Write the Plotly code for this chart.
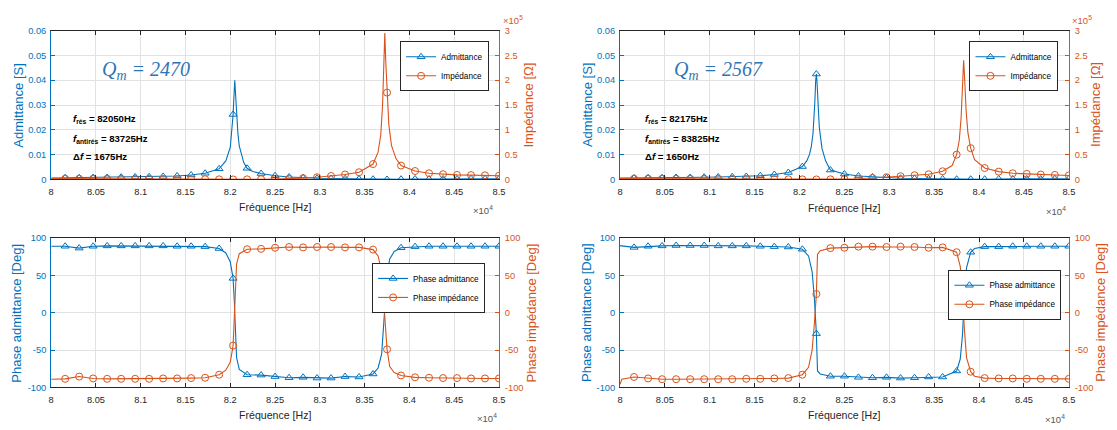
import plotly.graph_objects as go

# page body has an 8px margin: the figure is sized/offset so that it maps onto the 1117x430 window
PAGE_W, PAGE_H = 1117, 430
OFF = 8
W, H = PAGE_W - OFF, PAGE_H - OFF
BLUE = '#0072BD'
ORANGE = '#D95319'
DARK = '#262626'
GRID = '#e2e2e2'
FONT = 'Liberation Sans'

# ---------------- axis ticks ----------------
x_tick_vals = [80000, 80500, 81000, 81500, 82000, 82500, 83000, 83500, 84000, 84500, 85000]
x_tick_text = ['8', '8.05', '8.1', '8.15', '8.2', '8.25', '8.3', '8.35', '8.4', '8.45', '8.5']
adm_tick_vals = [0, 0.01, 0.02, 0.03, 0.04, 0.05, 0.06]
adm_tick_text = ['0', '0.01', '0.02', '0.03', '0.04', '0.05', '0.06']
imp_tick_vals = [0, 50000, 100000, 150000, 200000, 250000, 300000]
imp_tick_text = ['0', '0.5', '1', '1.5', '2', '2.5', '3']
phase_tick_vals = [-100, -50, 0, 50, 100]
phase_tick_text = ['-100', '-50', '0', '50', '100']

# marker positions (every marker drawn on the curves)
marker_freq = [80156.25, 80312.5, 80468.75, 80625, 80781.25, 80937.5, 81093.75, 81250,
               81406.25, 81562.5, 81718.75, 81875, 82031.25, 82187.5, 82343.75, 82500,
               82656.25, 82812.5, 82968.75, 83125, 83281.25, 83437.5, 83593.75, 83750,
               83906.25, 84062.5, 84218.75, 84375, 84531.25, 84687.5, 84843.75, 85000]

# ---------------- top-left: Qm = 2470 ----------------
freq_tl = [80000, 80156.25, 80312.5, 80468.75, 80625, 80781.25, 80937.5, 81093.75, 81250,
           81406.25, 81562.5, 81718.75, 81875, 81950, 82000, 82020, 82031.25, 82040, 82050,
           82060, 82070, 82085, 82100, 82130, 82150, 82187.5, 82250, 82343.75, 82500,
           82656.25, 82812.5, 82968.75, 83125, 83281.25, 83437.5, 83593.75, 83650, 83680,
           83700, 83715, 83725, 83735, 83750, 83770, 83800, 83850, 83906.25, 84062.5,
           84218.75, 84375, 84531.25, 84687.5, 84843.75, 85000]
adm_tl = [0.0006, 0.0007, 0.0007, 0.0008, 0.0008, 0.0009, 0.0010, 0.0011, 0.0012,
          0.0014, 0.0018, 0.0025, 0.0043, 0.0075, 0.0130, 0.0200, 0.0262, 0.0330, 0.0400,
          0.0335, 0.0265, 0.0185, 0.0135, 0.0088, 0.0068, 0.0045, 0.0032, 0.0024, 0.0015,
          0.0010, 0.0007, 0.0005, 0.0004, 0.0003, 0.0002, 0.0001, 0.0001, 0.0001,
          0.0000, 0.0000, 0.0000, 0.0000, 0.0000, 0.0001, 0.0001, 0.0001, 0.0001, 0.0002,
          0.0002, 0.0002, 0.0002, 0.0003, 0.0003, 0.0003]
imp_tl = [1600, 1450, 1400, 1300, 1250, 1150, 1050, 950, 850,
          720, 560, 400, 235, 135, 77, 50, 38, 30, 25,
          30, 38, 54, 74, 113, 147, 222, 330, 500, 900,
          1500, 2600, 4500, 7000, 10000, 14500, 31000, 55000, 90000,
          150000, 230000, 295000, 240000, 175000, 110000, 68000, 42000, 28000, 17000,
          12500, 10500, 9200, 8800, 8300, 7500]

# ---------------- top-right: Qm = 2567 ----------------
freq_tr = [80000, 80156.25, 80312.5, 80468.75, 80625, 80781.25, 80937.5, 81093.75, 81250,
           81406.25, 81562.5, 81718.75, 81875, 82031.25, 82080, 82110, 82130, 82150, 82160,
           82170, 82180, 82187.5, 82195, 82205, 82220, 82250, 82290, 82343.75, 82500,
           82656.25, 82812.5, 82968.75, 83125, 83281.25, 83437.5, 83593.75, 83700, 83750,
           83780, 83800, 83815, 83828, 83840, 83855, 83875, 83906.25, 83950, 84062.5,
           84218.75, 84375, 84531.25, 84687.5, 84843.75, 85000]
adm_tr = [0.0006, 0.0006, 0.0007, 0.0007, 0.0008, 0.0008, 0.0009, 0.0010, 0.0011,
          0.0012, 0.0015, 0.0020, 0.0028, 0.0052, 0.0075, 0.0100, 0.0130, 0.0185, 0.0235,
          0.0310, 0.0400, 0.0425, 0.0390, 0.0300, 0.0210, 0.0125, 0.0075, 0.0038, 0.0022,
          0.0014, 0.0010, 0.0007, 0.0005, 0.0004, 0.0003, 0.0002, 0.0001, 0.0001,
          0.0000, 0.0000, 0.0000, 0.0000, 0.0000, 0.0000, 0.0000, 0.0001, 0.0001, 0.0001,
          0.0002, 0.0002, 0.0002, 0.0002, 0.0003, 0.0003]
imp_tr = [1600, 1550, 1450, 1400, 1300, 1250, 1150, 1050, 950,
          850, 700, 520, 360, 190, 130, 100, 77, 54, 43,
          32, 25, 24, 26, 33, 48, 80, 130, 260, 600,
          1500, 2800, 4500, 6500, 8500, 10500, 16500, 28000, 50000,
          80000, 125000, 185000, 240000, 200000, 140000, 95000, 63000, 40000, 23000,
          15800, 12500, 11200, 9900, 9200, 8000]

# ---------------- bottom-left: phases (Qm = 2470) ----------------
freq_bl = [80000, 80156.25, 80312.5, 80468.75, 80625, 80781.25, 80937.5, 81093.75, 81250,
           81406.25, 81562.5, 81718.75, 81875, 81950, 82000, 82031.25, 82045, 82055, 82070,
           82100, 82187.5, 82343.75, 82500, 82656.25, 82812.5, 82968.75, 83125, 83281.25,
           83437.5, 83593.75, 83650, 83690, 83712, 83730, 83750, 83780, 83830, 83906.25,
           84062.5, 84218.75, 84375, 84531.25, 84687.5, 84843.75, 85000]
ph_adm_bl = [89, 89, 86.5, 89, 89.5, 89.5, 89.5, 89.5, 89.5,
             89, 89, 88.5, 86, 80, 68, 46, 15, -25, -60,
             -76, -83, -83.5, -85.5, -87, -86.5, -87.5, -87.5, -85.5,
             -86, -82, -74, -55, -20, 20, 50, 72, 82, 87,
             88.5, 89, 89, 89, 89, 89, 89]
ph_imp_bl = [-89, -88.5, -85.5, -88, -88.5, -88.5, -88.5, -88.5, -88,
             -88, -87.5, -87, -83, -77, -66, -44, -10, 30, 65,
             79, 85, 85.5, 87, 88, 87.5, 88, 88, 87.5,
             87.5, 84.5, 76, 55, 20, -20, -49, -72, -80, -84,
             -86.5, -87, -87.5, -87.5, -88, -88, -88]

# ---------------- bottom-right: phases (Qm = 2567) ----------------
freq_br = [80000, 80020, 80156.25, 80312.5, 80468.75, 80625, 80781.25, 80937.5, 81093.75,
           81250, 81406.25, 81562.5, 81718.75, 81875, 82031.25, 82100, 82140, 82165, 82187.5,
           82200, 82230, 82343.75, 82500, 82656.25, 82812.5, 82968.75, 83125, 83281.25,
           83437.5, 83593.75, 83750, 83790, 83815, 83835, 83860, 83906.25, 83950, 84062.5,
           84218.75, 84375, 84531.25, 84687.5, 84843.75, 85000]
ph_adm_br = [89.5, 89.5, 87.5, 89, 89.5, 90, 90, 90, 89.5,
             89.5, 89.5, 89, 88.5, 88, 85, 76, 55, 20, -28,
             -78, -82, -85, -85, -86.5, -87, -86.5, -87.5, -87,
             -86, -86, -78, -62, -30, 20, 60, 81, 86, 88.5,
             88.5, 89, 89, 89, 89, 89]
ph_imp_br = [-96, -89, -86, -88, -89, -89, -89, -89, -89,
             -89, -88.5, -88.5, -88, -87.5, -83, -73, -50, -15, 25,
             78, 83, 86.5, 87, 88.5, 88.5, 88, 88.5, 88,
             87, 87.5, 81, 62, 30, -20, -60, -79, -85, -87.5,
             -88, -88, -88.5, -88.5, -88.5, -88.5]

# ---------------- texts ----------------
qm_texts = ['2470', '2567']
f_res = ['82050', '82175']
f_antires = ['83725', '83825']
delta_f = ['1675', '1650']


def px(x):
    return (x - OFF) / W


def py(y):
    return 1 - (y - OFF) / H


fig = go.Figure()

MK = set(marker_freq)


def add_series(freq, vals, xa, ya, color, symbol, name, legend):
    fig.add_trace(go.Scatter(x=freq, y=vals, mode='lines', xaxis=xa, yaxis=ya,
                             line=dict(color=color, width=1.1), showlegend=False,
                             hoverinfo='skip'))
    mx = [f for f in freq if f in MK]
    my = [v for f, v in zip(freq, vals) if f in MK]
    fig.add_trace(go.Scatter(x=mx, y=my, mode='markers', xaxis=xa, yaxis=ya,
                             marker=dict(symbol=symbol, size=7, color=color,
                                         line=dict(color=color, width=1)),
                             showlegend=False, hoverinfo='skip'))
    fig.add_trace(go.Scatter(x=[None], y=[None], mode='lines+markers', xaxis=xa, yaxis=ya,
                             name=name, legend=legend,
                             line=dict(color=color, width=1.1),
                             marker=dict(symbol=symbol, size=7, color=color,
                                         line=dict(color=color, width=1))))


add_series(freq_tl, adm_tl, 'x', 'y', BLUE, 'triangle-up-open', 'Admittance', 'legend')
add_series(freq_tl, imp_tl, 'x', 'y2', ORANGE, 'circle-open', 'Impédance', 'legend')
add_series(freq_tr, adm_tr, 'x2', 'y3', BLUE, 'triangle-up-open', 'Admittance', 'legend2')
add_series(freq_tr, imp_tr, 'x2', 'y4', ORANGE, 'circle-open', 'Impédance', 'legend2')
add_series(freq_bl, ph_adm_bl, 'x3', 'y5', BLUE, 'triangle-up-open', 'Phase admittance', 'legend3')
add_series(freq_bl, ph_imp_bl, 'x3', 'y6', ORANGE, 'circle-open', 'Phase impédance', 'legend3')
add_series(freq_br, ph_adm_br, 'x4', 'y7', BLUE, 'triangle-up-open', 'Phase admittance', 'legend4')
add_series(freq_br, ph_imp_br, 'x4', 'y8', ORANGE, 'circle-open', 'Phase impédance', 'legend4')

LX = [48.5, 500]
RX = [622, 1074.5]
TY = [26, 178.5]
BY = [238.5, 391.5]


def xdom(a):
    return [px(a[0]), px(a[1])]


def ydom(a):
    return [py(a[1]), py(a[0])]


def xax(dom, anchor):
    return dict(domain=xdom(dom), anchor=anchor, range=[80000, 85000],
                tickmode='array', tickvals=x_tick_vals, ticktext=x_tick_text,
                ticks='inside', ticklen=4, tickwidth=1, tickcolor=DARK,
                showline=True, linecolor=DARK, linewidth=1, mirror='ticks',
                showgrid=True, gridcolor=GRID, gridwidth=1, zeroline=False,
                tickfont=dict(family=FONT, size=9.3, color=DARK), ticklabelstandoff=3,
                fixedrange=True)


def yleft(dom, anchor, rng, tv, tt):
    return dict(domain=ydom(dom), anchor=anchor, range=rng,
                tickmode='array', tickvals=tv, ticktext=tt,
                ticks='inside', ticklen=4, tickwidth=1, tickcolor=BLUE,
                showline=True, linecolor=BLUE, linewidth=1,
                showgrid=True, gridcolor=GRID, gridwidth=1, zeroline=False,
                tickfont=dict(family=FONT, size=9.3, color=BLUE), ticklabelstandoff=2,
                fixedrange=True)


def yright(overlay, anchor, rng, tv, tt):
    return dict(overlaying=overlay, anchor=anchor, side='right', range=rng,
                tickmode='array', tickvals=tv, ticktext=tt,
                ticks='inside', ticklen=4, tickwidth=1, tickcolor=ORANGE,
                showline=True, linecolor=ORANGE, linewidth=1,
                showgrid=False, zeroline=False,
                tickfont=dict(family=FONT, size=9.3, color=ORANGE), ticklabelstandoff=3,
                fixedrange=True)


def leg(right, top):
    return dict(x=px(right), y=py(top), xanchor='right', yanchor='top',
                bgcolor='white', bordercolor=DARK, borderwidth=1,
                font=dict(family=FONT, size=8.2, color='black'),
                itemwidth=30, tracegroupgap=0)


annotations = []


def ann(text, x, y, size, color, angle=0, xanchor='center', family=FONT):
    annotations.append(dict(text=text, x=px(x), y=py(y), xref='paper', yref='paper',
                            showarrow=False, textangle=angle, xanchor=xanchor,
                            yanchor='middle',
                            font=dict(family=family, size=size, color=color)))


# axis titles
for (lx, rx, cy, ylab_l, ylab_r, xt_y, ex_x, ex_y) in [
    (16, 530, 102, 'Admittance [S]', 'Impédance [Ω]', 207, 496, 210),
    (589, 1102, 102, 'Admittance [S]', 'Impédance [Ω]', 208, 1074, 211),
    (14, 533, 315, 'Phase admittance [Deg]', 'Phase impédance [Deg]', 420, 500, 423),
    (588, 1107, 315, 'Phase admittance [Deg]', 'Phase impédance [Deg]', 420, 1073, 424),
]:
    ann(ylab_l, lx, cy, 13, BLUE, angle=-90)
    ann(ylab_r, rx, cy, 13, ORANGE, angle=-90)
    xc = 274 if lx < 300 else 848
    ann('Fréquence [Hz]', xc, xt_y, 10.6, DARK)
    annotations.append(dict(text='×10<sup>4</sup>', x=px(ex_x), y=py(ex_y), xref='paper',
                            yref='paper', showarrow=False, xanchor='right', yanchor='middle',
                            font=dict(family=FONT, size=9.5, color='#555555')))

# x10^5 exponents of impedance axes
for ex in [502, 1076]:
    annotations.append(dict(text='×10<sup>5</sup>', x=px(ex), y=py(15), xref='paper',
                            yref='paper', showarrow=False, xanchor='left', yanchor='middle',
                            font=dict(family=FONT, size=9.5, color=ORANGE)))

# Qm labels and frequency info
for i, x0 in enumerate([98, 674]):
    annotations.append(dict(text='<i>Q<sub>m</sub> = ' + qm_texts[i] + '</i>',
                            x=px(x0), y=py(67), xref='paper', yref='paper',
                            showarrow=False, xanchor='left', yanchor='middle',
                            font=dict(family='Liberation Serif', size=20, color='#2E75B6')))
    fx = 68 if i == 0 else 645
    lines = [
        ('<b><i>f</i></b><sub><b>rés</b></sub><b> = ' + f_res[i] + 'Hz</b>', 117),
        ('<b><i>f</i></b><sub><b>antirés</b></sub><b> = ' + f_antires[i] + 'Hz</b>', 137),
        ('<b>Δ<i>f</i> = ' + delta_f[i] + 'Hz</b>', 155),
    ]
    for t, yy in lines:
        annotations.append(dict(text=t, x=px(fx), y=py(yy), xref='paper', yref='paper',
                                showarrow=False, xanchor='left', yanchor='middle',
                                font=dict(family=FONT, size=9.6, color='black')))

fig.update_layout(
    width=W, height=H,
    margin=dict(l=0, r=0, t=0, b=0),
    paper_bgcolor='white', plot_bgcolor='white',
    font=dict(family=FONT, color=DARK),
    hovermode=False,
    xaxis=xax(LX, 'y'),
    xaxis2=xax(RX, 'y3'),
    xaxis3=xax(LX, 'y5'),
    xaxis4=xax(RX, 'y7'),
    yaxis=yleft(TY, 'x', [0, 0.06], adm_tick_vals, adm_tick_text),
    yaxis2=yright('y', 'x', [0, 300000], imp_tick_vals, imp_tick_text),
    yaxis3=yleft(TY, 'x2', [0, 0.06], adm_tick_vals, adm_tick_text),
    yaxis4=yright('y3', 'x2', [0, 300000], imp_tick_vals, imp_tick_text),
    yaxis5=yleft(BY, 'x3', [-100, 100], phase_tick_vals, phase_tick_text),
    yaxis6=yright('y5', 'x3', [-100, 100], phase_tick_vals, phase_tick_text),
    yaxis7=yleft(BY, 'x4', [-100, 100], phase_tick_vals, phase_tick_text),
    yaxis8=yright('y7', 'x4', [-100, 100], phase_tick_vals, phase_tick_text),
    legend=leg(490, 37),
    legend2=leg(1064, 37),
    legend3=leg(486, 264),
    legend4=leg(1067, 271),
    annotations=annotations,
)

fig.write_html('out.html')
